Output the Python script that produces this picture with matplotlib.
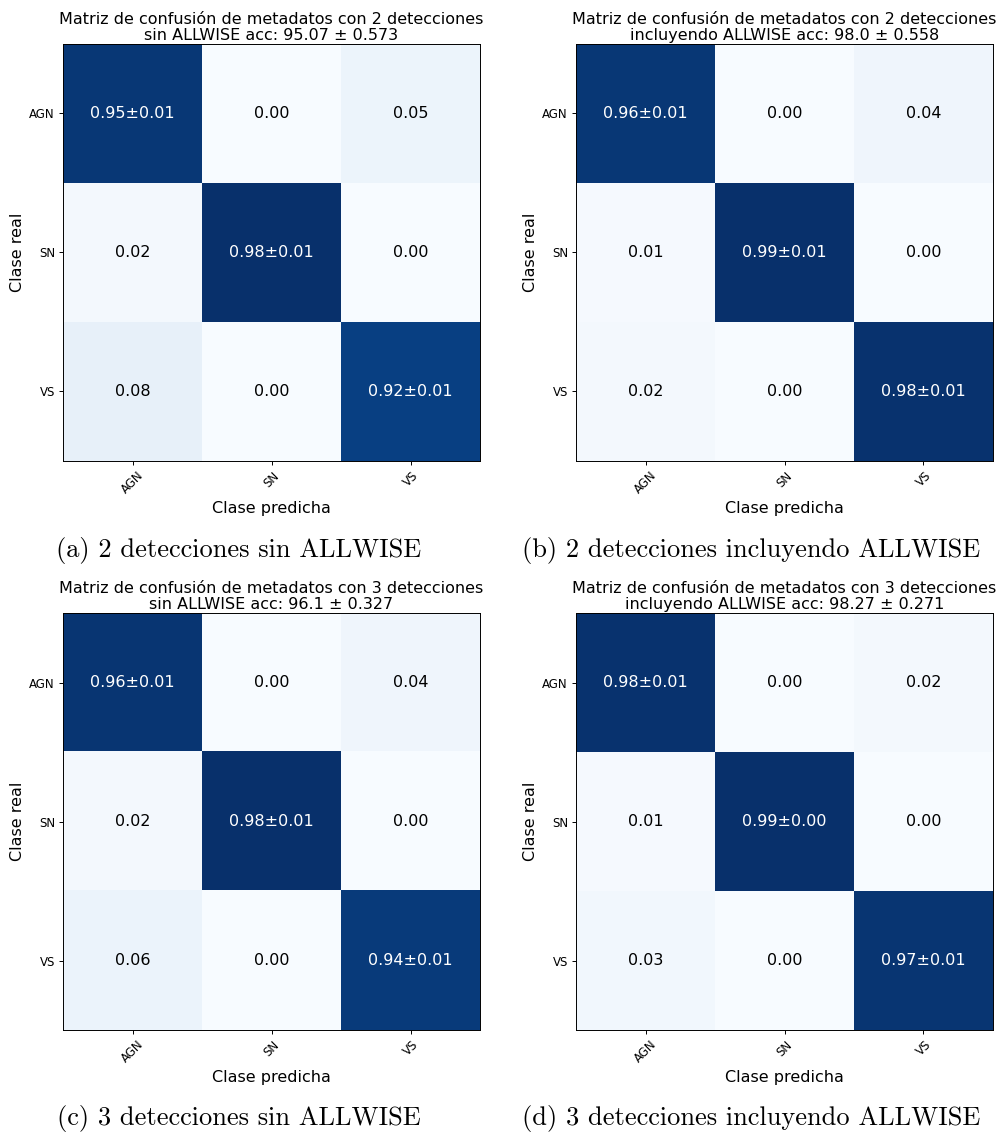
import numpy as np
import matplotlib.pyplot as plt

clases = ['AGN', 'SN', 'VS']

# matrices normalizadas (media sobre folds) y desviación de la diagonal
cm_2_sin = np.array([[0.95, 0.00, 0.05],
                     [0.02, 0.98, 0.00],
                     [0.08, 0.00, 0.92]])
std_2_sin = [0.01, 0.01, 0.01]

cm_2_con = np.array([[0.96, 0.00, 0.04],
                     [0.01, 0.99, 0.00],
                     [0.02, 0.00, 0.98]])
std_2_con = [0.01, 0.01, 0.01]

cm_3_sin = np.array([[0.96, 0.00, 0.04],
                     [0.02, 0.98, 0.00],
                     [0.06, 0.00, 0.94]])
std_3_sin = [0.01, 0.01, 0.01]

cm_3_con = np.array([[0.98, 0.00, 0.02],
                     [0.01, 0.99, 0.00],
                     [0.03, 0.00, 0.97]])
std_3_con = [0.01, 0.00, 0.01]

titulos = [
    'Matriz de confusión de metadatos con 2 detecciones\nsin ALLWISE acc: 95.07 ± 0.573',
    'Matriz de confusión de metadatos con 2 detecciones\nincluyendo ALLWISE acc: 98.0 ± 0.558',
    'Matriz de confusión de metadatos con 3 detecciones\nsin ALLWISE acc: 96.1 ± 0.327',
    'Matriz de confusión de metadatos con 3 detecciones\nincluyendo ALLWISE acc: 98.27 ± 0.271',
]
subtitulos = [
    '(a) 2 detecciones sin ALLWISE',
    '(b) 2 detecciones incluyendo ALLWISE',
    '(c) 3 detecciones sin ALLWISE',
    '(d) 3 detecciones incluyendo ALLWISE',
]


def plot_confusion_matrix(ax, cm, std, title):
    ax.imshow(cm, interpolation='nearest', cmap=plt.cm.Blues)
    ax.set_title(title, fontsize=11.5, linespacing=1.1, pad=3)
    ticks = np.arange(len(clases))
    ax.set_xticks(ticks)
    ax.set_xticklabels(clases, rotation=45, fontsize=8.5)
    ax.set_yticks(ticks)
    ax.set_yticklabels(clases, fontsize=8.5)
    ax.tick_params(length=2.9, pad=2.9, width=0.7)
    for s in ax.spines.values():
        s.set_linewidth(0.7)
    thresh = cm.max() / 2.
    for i in range(cm.shape[0]):
        for j in range(cm.shape[1]):
            if i == j:
                txt = '%.2f±%.2f' % (cm[i, j], std[i])
            else:
                txt = '%.2f' % cm[i, j]
            ax.text(j, i, txt, ha='center', va='center', fontsize=11.5,
                    color='white' if cm[i, j] > thresh else 'black')
    ax.set_ylabel('Clase real', fontsize=11.5, labelpad=3.3)
    ax.set_xlabel('Clase predicha', fontsize=11.5, labelpad=3.3)


fig = plt.figure(figsize=(10, 11.34), dpi=100)

matrices = [cm_2_sin, cm_2_con, cm_3_sin, cm_3_con]
stds = [std_2_sin, std_2_con, std_3_sin, std_3_con]
lefts = [0.063, 0.576, 0.063, 0.576]
bottoms = [0.5926, 0.5926, 0.0908, 0.0908]
cap_x = [0.239, 0.751, 0.239, 0.751]
cap_y = [1 - 551 / 1134, 1 - 551 / 1134, 1 - 1118 / 1134, 1 - 1118 / 1134]

for k in range(4):
    ax = fig.add_axes([lefts[k], bottoms[k], 0.417, 419 / 1134])
    plot_confusion_matrix(ax, matrices[k], stds[k], titulos[k])
    fig.text(cap_x[k], cap_y[k], subtitulos[k], ha='center', va='center',
             fontsize=19, family='cmr10')

fig.savefig('out.png', dpi=100)
